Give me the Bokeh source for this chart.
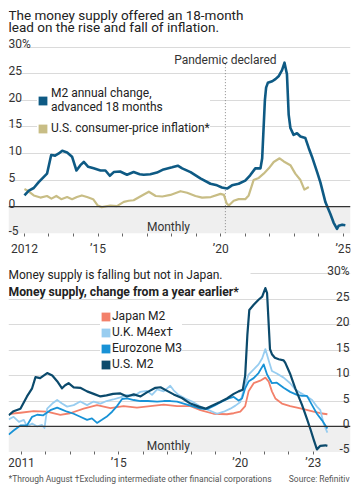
from bokeh.plotting import figure
from bokeh.models import (FixedTicker, Span, BoxAnnotation, Legend, LegendItem, Label,
                          ColumnDataSource, Range1d)
from bokeh.layouts import column
from bokeh.embed import file_html
from bokeh.resources import INLINE
from bokeh.core.properties import value

# ---------------- data: top chart ----------------
m2_adv_x = [2012.0, 2012.18, 2012.38, 2012.58, 2012.79, 2012.92, 2013.09, 2013.25, 2013.4, 2013.54,
            2013.74, 2013.94, 2014.12, 2014.28, 2014.42, 2014.6, 2014.82, 2015.1, 2015.3, 2015.48,
            2015.64, 2015.9, 2016.18, 2016.45, 2016.7, 2016.86, 2017.13, 2017.4, 2017.67, 2018.02,
            2018.25, 2018.43, 2018.77, 2019.17, 2019.58, 2019.85, 2020.05, 2020.26, 2020.46, 2020.73,
            2021.0, 2021.2, 2021.41, 2021.62, 2021.69, 2021.8, 2021.85, 2021.92, 2022.1, 2022.23,
            2022.37, 2022.5, 2022.6, 2022.7, 2022.77, 2022.84, 2022.97, 2023.11, 2023.25, 2023.45,
            2023.59, 2023.72, 2023.93, 2024.06, 2024.27, 2024.47, 2024.6, 2024.74, 2024.81, 2024.95,
            2025.08]
m2_adv_y = [2.1, 3.0, 3.5, 4.6, 5.6, 6.2, 9.7, 9.6, 10.0, 10.5,
            10.2, 9.4, 6.8, 7.8, 8.4, 7.5, 7.2, 6.8, 6.8, 5.8,
            6.5, 6.6, 6.0, 6.5, 6.1, 6.0, 6.1, 6.4, 7.0, 7.4,
            7.7, 7.2, 6.5, 5.3, 4.3, 4.0, 3.6, 3.4, 4.0, 4.3,
            4.9, 5.9, 7.2, 7.2, 9.1, 20.0, 22.4, 23.3, 23.6, 24.0,
            24.6, 25.7, 27.1, 24.9, 17.3, 14.8, 13.5, 13.8, 13.2, 12.9,
            11.0, 9.4, 6.5, 4.6, 0.8, -1.4, -3.0, -4.2, -3.6, -3.4,
            -3.5]

cpi_x = [2012.0, 2012.13, 2012.38, 2012.65, 2012.92, 2013.1, 2013.3, 2013.5, 2013.74, 2013.94,
         2014.14, 2014.34, 2014.55, 2014.8, 2014.99, 2015.15, 2015.5, 2015.77, 2016.05, 2016.25,
         2016.45, 2016.72, 2017.07, 2017.35, 2017.62, 2017.95, 2018.36, 2018.63, 2018.97, 2019.24,
         2019.6, 2019.99, 2020.13, 2020.24, 2020.33, 2020.53, 2020.73, 2021.0, 2021.14, 2021.34,
         2021.55, 2021.75, 2021.96, 2022.16, 2022.4, 2022.57, 2022.84, 2023.04, 2023.25, 2023.41,
         2023.59]
cpi_y = [3.3, 3.0, 2.1, 1.7, 2.0, 1.5, 2.0, 1.4, 1.8, 1.4,
         1.8, 2.1, 1.8, 1.4, 0.2, -0.1, 0.2, 0.1, 0.9, 1.1,
         1.2, 1.9, 2.8, 2.0, 1.9, 2.2, 2.9, 2.6, 2.0, 1.7,
         1.8, 2.4, 2.2, 0.6, 0.2, 1.1, 1.4, 1.4, 2.1, 5.0,
         5.4, 6.2, 7.2, 8.4, 9.1, 8.5, 7.8, 6.2, 5.0, 3.2,
         3.7]

top_years = list(range(2012, 2026))
top_year_labels = {2012: "2012", 2015: "\u201915", 2020: "\u201920", 2025: "\u201925"}
top_y_ticks = [30, 25, 20, 15, 10, 5, 0, -5]
top_y_labels = ["30%", "25", "20", "15", "10", "5", "0", "-5"]
PANDEMIC = 2020.19

# ---------------- data: bottom chart ----------------
us_x = [2010.48, 2010.68, 2010.96, 2011.23, 2011.44, 2011.58, 2011.77, 2012.06, 2012.27, 2012.47,
        2012.67, 2012.8, 2012.94, 2013.15, 2013.42, 2013.7, 2013.97, 2014.25, 2014.5, 2014.77,
        2015.07, 2015.34, 2015.62, 2015.9, 2016.16, 2016.51, 2016.72, 2016.99, 2017.26, 2017.6,
        2017.95, 2018.29, 2018.57, 2018.9, 2019.17, 2019.45, 2019.73, 2019.93, 2020.1, 2020.2,
        2020.29, 2020.37, 2020.55, 2020.75, 2020.9, 2021.03, 2021.1, 2021.22, 2021.3, 2021.42,
        2021.58, 2021.78, 2021.85, 2022.06, 2022.26, 2022.54, 2022.74, 2022.88, 2023.01, 2023.15,
        2023.29, 2023.5, 2023.58]
us_y = [2.2, 3.0, 3.5, 5.9, 7.5, 9.7, 9.5, 10.5, 10.0, 8.9,
        7.5, 8.1, 8.5, 7.7, 7.6, 6.9, 6.4, 5.9, 6.1, 6.4,
        6.5, 5.9, 6.3, 5.9, 6.7, 7.6, 7.7, 7.0, 6.3, 5.6,
        4.5, 3.9, 3.5, 4.2, 4.8, 5.5, 6.4, 6.9, 7.2, 10.0,
        18.0, 22.9, 23.9, 24.9, 25.5, 27.2, 26.2, 15.2, 14.2, 13.5,
        13.2, 13.0, 12.5, 10.2, 7.5, 4.2, 1.5, -0.5, -2.5, -4.5,
        -3.8, -3.7, -3.8]

jp_x = [2010.55, 2010.96, 2011.5, 2012.05, 2012.6, 2013.0, 2013.56, 2014.11, 2014.66, 2015.2,
        2015.75, 2016.3, 2016.85, 2017.4, 2017.95, 2018.36, 2018.9, 2019.45, 2019.73, 2020.0,
        2020.2, 2020.34, 2020.55, 2020.82, 2021.03, 2021.17, 2021.3, 2021.44, 2021.71, 2022.05,
        2022.33, 2022.6, 2023.01, 2023.29, 2023.58]
jp_y = [2.5, 2.7, 3.0, 2.9, 2.3, 2.6, 3.5, 4.2, 3.6, 4.0,
        3.7, 4.0, 4.3, 4.0, 4.0, 3.2, 2.5, 2.4, 2.6, 2.9,
        4.0, 6.9, 8.5, 9.0, 9.6, 8.8, 6.9, 5.5, 4.5, 4.0,
        3.7, 3.4, 2.9, 2.6, 2.4]

ez_x = [2010.48, 2010.68, 2010.96, 2011.23, 2011.44, 2011.65, 2011.9, 2012.19, 2012.47, 2012.67,
        2012.88, 2013.15, 2013.42, 2013.7, 2013.9, 2014.11, 2014.31, 2014.5, 2014.73, 2014.93,
        2015.14, 2015.34, 2015.62, 2015.89, 2016.2, 2016.58, 2016.85, 2017.13, 2017.4, 2017.67,
        2018.02, 2018.36, 2018.63, 2018.97, 2019.25, 2019.52, 2019.73, 2019.93, 2020.07, 2020.2,
        2020.35, 2020.55, 2020.75, 2020.96, 2021.1, 2021.3, 2021.5, 2021.78, 2022.05, 2022.33,
        2022.54, 2022.74, 2022.95, 2023.15, 2023.36, 2023.58]
ez_y = [-1.6, -0.8, 0.2, 0.2, 1.9, 2.3, 2.2, 3.2, 3.7, 3.3,
        2.9, 2.5, 1.9, 1.3, 1.6, 0.7, 1.3, 1.9, 2.9, 4.0,
        5.4, 5.5, 5.2, 5.0, 5.0, 4.9, 5.0, 5.0, 4.9, 4.5,
        4.0, 3.5, 3.4, 4.2, 4.9, 5.5, 5.8, 5.1, 5.5, 7.5,
        8.9, 9.5, 10.5, 12.2, 10.2, 8.5, 8.6, 7.6, 6.8, 6.2,
        6.0, 6.0, 4.2, 2.5, 1.2, -0.4]

uk_x = [2010.48, 2010.68, 2010.9, 2011.1, 2011.23, 2011.44, 2011.65, 2011.85, 2011.95, 2012.06,
        2012.27, 2012.47, 2012.67, 2012.88, 2013.15, 2013.42, 2013.7, 2013.97, 2014.25, 2014.5,
        2014.77, 2015.07, 2015.34, 2015.62, 2015.89, 2016.16, 2016.37, 2016.58, 2016.85, 2017.12,
        2017.26, 2017.46, 2017.74, 2018.02, 2018.36, 2018.7, 2019.04, 2019.32, 2019.59, 2019.8,
        2020.0, 2020.2, 2020.34, 2020.55, 2020.75, 2020.9, 2021.03, 2021.17, 2021.3, 2021.5,
        2021.78, 2022.05, 2022.26, 2022.47, 2022.74, 2022.95, 2023.15, 2023.29, 2023.43, 2023.58]
uk_y = [1.4, 1.9, 0.9, 1.3, 0.0, 0.6, 0.0, 0.3, -0.3, 3.5,
        4.5, 5.2, 4.5, 3.9, 4.2, 4.9, 4.2, 4.9, 4.5, 5.0,
        5.3, 5.7, 6.2, 6.0, 6.8, 7.0, 6.2, 7.3, 6.9, 8.0,
        7.1, 6.2, 5.5, 4.9, 3.9, 3.2, 2.5, 2.9, 3.5, 4.1,
        4.8, 8.2, 10.2, 11.2, 12.2, 13.4, 15.2, 12.9, 10.9, 10.4,
        9.6, 8.5, 7.3, 6.6, 5.9, 5.2, 3.9, 3.2, 0.5, -1.2]

bot_years = list(range(2011, 2024))
bot_year_labels = {2011: "2011", 2015: "\u201915", 2020: "\u201920", 2023: "\u201923"}
bot_y_ticks = [30, 25, 20, 15, 10, 5, 0, -5]
bot_y_labels = ["30%", "25", "20", "15", "10", "5", "0", "-5"]

# ---------------- styles ----------------
FONT = "Roboto"
M2_TOP = "#0e5a84"
CPI_C = "#c8bd85"
US_C = "#0b4a6c"
EZ_C = "#1892d6"
UK_C = "#98cdf0"
JP_C = "#f3806a"
GRID_C = "#dadada"
SHADE_C = "#efefef"
TXT = "#222222"
NAN = float("nan")
AXIS_AT = -5


def style_common(p, years, labels, standoff):
    p.outline_line_color = None
    p.background_fill_color = "white"
    p.border_fill_color = "white"
    p.xgrid.visible = False
    p.ygrid.ticker = FixedTicker(ticks=[5, 10, 15, 20, 25, 30])
    p.ygrid.grid_line_color = GRID_C
    p.ygrid.grid_line_width = 1
    ax = p.xaxis[0]
    ax.fixed_location = AXIS_AT
    ax.ticker = FixedTicker(ticks=years)
    ax.major_label_overrides = {y: labels.get(y, "") for y in years}
    ax.axis_line_color = None
    ax.major_tick_line_color = "#666666"
    ax.major_tick_in = 0
    ax.major_tick_out = 3
    ax.minor_tick_out = 0
    ax.minor_tick_line_color = None
    ax.major_label_standoff = standoff
    ax.major_label_text_font = FONT
    ax.major_label_text_font_size = "12px"
    ax.major_label_text_color = "#333333"
    p.add_layout(BoxAnnotation(top=0, bottom=AXIS_AT, fill_color=SHADE_C, fill_alpha=1,
                               line_color=None, level="underlay"))
    p.add_layout(Span(location=0, dimension="width", line_color="#333333", line_width=1.3))


# ---------------- top figure ----------------
p1 = figure(width=354, height=258, x_range=Range1d(2011.35, 2025.29), y_range=Range1d(-9.77, 38.8),
            output_backend="svg", toolbar_location=None, y_axis_location=None,
            min_border_left=8, min_border_right=4, min_border_top=0, min_border_bottom=0)
style_common(p1, top_years, top_year_labels, 6)

ylab1 = ColumnDataSource(dict(x=[p1.x_range.start] * len(top_y_ticks), y=top_y_ticks, t=top_y_labels))
p1.text(x="x", y="y", text="t", source=ylab1, text_align="left", text_baseline="alphabetic",
        y_offset=-3, text_font=value(FONT), text_font_size="12px", text_color="#333333")

p1.segment(x0=[PANDEMIC], y0=[-5], x1=[PANDEMIC], y1=[27.0], line_color="#888888",
           line_width=1, line_dash="1 2")
p1.text(x=[PANDEMIC], y=[27.6], text=["Pandemic declared"], text_align="center",
        text_baseline="alphabetic", text_font=value(FONT), text_font_size="12px", text_color="#333333")
p1.text(x=[2017.87], y=[-3.8], text=["Monthly"], text_align="center", text_baseline="middle",
        text_font=value(FONT), text_font_size="12px", text_color="#333333")

p1.line(cpi_x, cpi_y, line_color=CPI_C, line_width=2.2, line_join="round")
p1.line(m2_adv_x, m2_adv_y, line_color=M2_TOP, line_width=2.6, line_join="round")

lg1a = p1.quad(left=[NAN], right=[NAN], top=[NAN], bottom=[NAN], fill_color=M2_TOP, line_color=None)
lg1b = p1.quad(left=[NAN], right=[NAN], top=[NAN], bottom=[NAN], fill_color=CPI_C, line_color=None)
leg1 = Legend(items=[LegendItem(label="M2 annual change,\nadvanced 18 months", renderers=[lg1a]),
                     LegendItem(label="U.S. consumer-price inflation*", renderers=[lg1b])],
              location=(29, 123), padding=8, margin=0, spacing=7, glyph_width=11, glyph_height=11,
              label_standoff=3, label_height=13, label_text_font=FONT, label_text_font_size="12px",
              label_text_color=TXT, border_line_color=None, background_fill_color="white",
              background_fill_alpha=1)
p1.add_layout(leg1)

p1.add_layout(Label(x=0, y=243.7, x_units="screen", y_units="screen",
                    text="The money supply offered an 18-month", text_font=FONT,
                    text_font_size="13.5px", text_color=TXT, text_baseline="alphabetic"))
p1.add_layout(Label(x=0, y=231.3, x_units="screen", y_units="screen",
                    text="lead on the rise and fall of inflation.", text_font=FONT,
                    text_font_size="13.5px", text_color=TXT, text_baseline="alphabetic"))

# ---------------- bottom figure ----------------
p2 = figure(width=354, height=226, x_range=Range1d(2010.47, 2024.53), y_range=Range1d(-11.4, 33.0),
            output_backend="svg", toolbar_location=None, y_axis_location=None,
            min_border_left=8, min_border_right=4, min_border_top=0, min_border_bottom=0)
style_common(p2, bot_years, bot_year_labels, 1)

p2.add_layout(BoxAnnotation(right=242, right_units="screen", bottom=188, bottom_units="screen",
                            fill_color="white", fill_alpha=1, line_color=None, level="underlay"))

ylab2 = ColumnDataSource(dict(x=[p2.x_range.end] * len(bot_y_ticks), y=bot_y_ticks, t=bot_y_labels))
p2.text(x="x", y="y", text="t", source=ylab2, text_align="right", text_baseline="alphabetic",
        x_offset=-1, y_offset=-3, text_font=value(FONT), text_font_size="12px", text_color="#333333")
p2.text(x=[2017.04], y=[-3.8], text=["Monthly"], text_align="center", text_baseline="middle",
        text_font=value(FONT), text_font_size="12px", text_color="#333333")

p2.line(jp_x, jp_y, line_color=JP_C, line_width=1.8, line_join="round")
p2.line(uk_x, uk_y, line_color=UK_C, line_width=1.8, line_join="round")
p2.line(ez_x, ez_y, line_color=EZ_C, line_width=1.8, line_join="round")
p2.line(us_x, us_y, line_color=US_C, line_width=2.2, line_join="round")

lq_jp = p2.quad(left=[NAN], right=[NAN], top=[NAN], bottom=[NAN], fill_color=JP_C, line_color=None)
lq_uk = p2.quad(left=[NAN], right=[NAN], top=[NAN], bottom=[NAN], fill_color=UK_C, line_color=None)
lq_ez = p2.quad(left=[NAN], right=[NAN], top=[NAN], bottom=[NAN], fill_color=EZ_C, line_color=None)
lq_us = p2.quad(left=[NAN], right=[NAN], top=[NAN], bottom=[NAN], fill_color=US_C, line_color=None)
leg2 = Legend(items=[LegendItem(label="Japan M2", renderers=[lq_jp]),
                     LegendItem(label="U.K. M4ex\u2020", renderers=[lq_uk]),
                     LegendItem(label="Eurozone M3", renderers=[lq_ez]),
                     LegendItem(label="U.S. M2", renderers=[lq_us])],
              location=(92, 113), padding=5, margin=0, spacing=2, glyph_width=11, glyph_height=11,
              label_standoff=1, label_height=13, label_text_font=FONT, label_text_font_size="12px",
              label_text_color=TXT, border_line_color=None, background_fill_color="white",
              background_fill_alpha=1)
p2.add_layout(leg2)

p2.add_layout(Label(x=0, y=210, x_units="screen", y_units="screen",
                    text="Money supply is falling but not in Japan.", text_font=FONT,
                    text_font_size="12px", text_color=TXT, text_baseline="alphabetic"))
p2.add_layout(Label(x=0, y=192.5, x_units="screen", y_units="screen",
                    text="Money supply, change from a year earlier*", text_font=FONT,
                    text_font_size="12.2px", text_font_style="bold", text_color=TXT,
                    text_baseline="alphabetic"))
p2.add_layout(Label(x=0, y=6, x_units="screen", y_units="screen",
                    text="*Through August  \u2020Excluding intermediate other financial corporations",
                    text_font=FONT, text_font_size="8.5px", text_color="#555555",
                    text_baseline="alphabetic"))
p2.add_layout(Label(x=341, y=6, x_units="screen", y_units="screen",
                    text="Source: Refinitiv", text_font=FONT, text_font_size="8.5px",
                    text_color="#555555", text_align="right", text_baseline="alphabetic"))

layout = column(p1, p2, spacing=0)
open("out.html", "w").write(file_html(layout, INLINE))
